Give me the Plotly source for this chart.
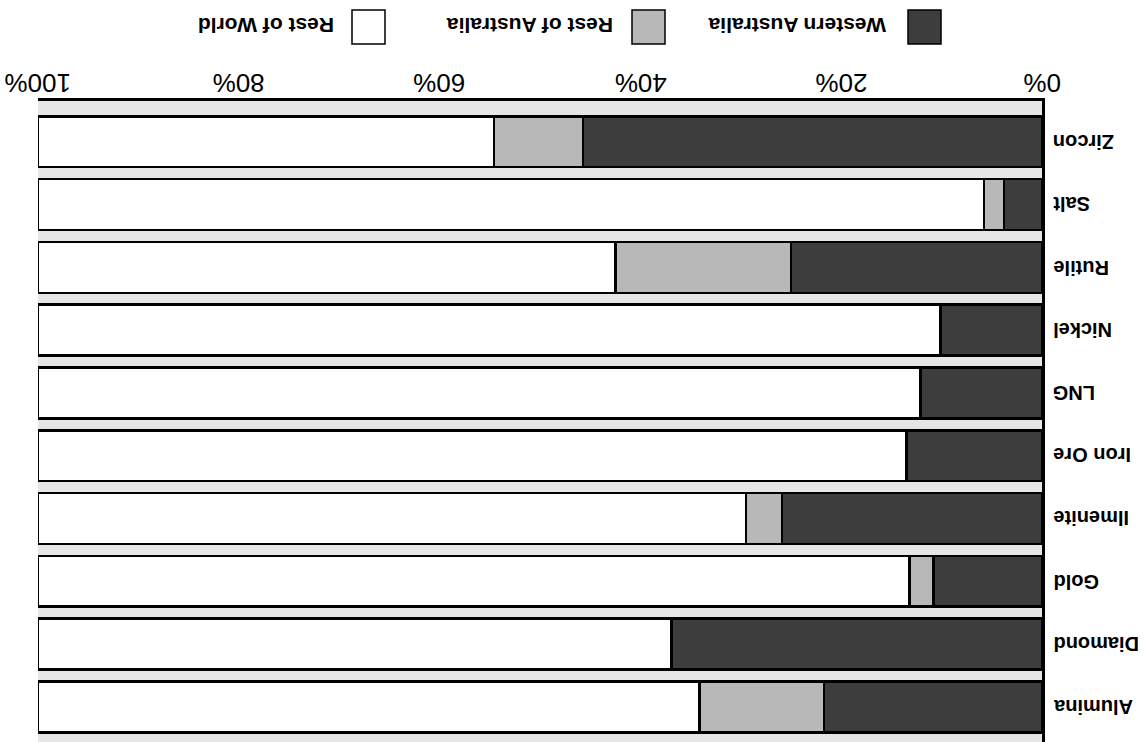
import plotly.graph_objects as go

categories = ["Alumina", "Diamond", "Gold", "Ilmenite", "Iron Ore", "LNG", "Nickel", "Rutile", "Salt", "Zircon"]
western_australia = [21.7, 36.9, 10.8, 25.9, 13.5, 12.1, 10.1, 25.0, 3.8, 45.7]
rest_of_australia = [12.4, 0.0, 2.4, 3.6, 0.0, 0.0, 0.0, 17.5, 2.0, 8.9]
rest_of_world = [round(100 - w - r, 1) for w, r in zip(western_australia, rest_of_australia)]
tick_values = [0, 20, 40, 60, 80, 100]
tick_labels = ["0%", "20%", "40%", "60%", "80%", "100%"]
series_names = ["Western Australia", "Rest of Australia", "Rest of World"]
series_colors = ["#3d3d3d", "#b8b8b8", "#ffffff"]

FONT = "Liberation Sans, Arial, Helvetica, sans-serif"
W_PX, H_PX = 1148, 742
L, R, T, B = 38, 106, 101, 0
PW, PH = W_PX - L - R, H_PX - T - B


def px_x(px):
    return (px - L) / PW


def px_y(py):
    return (H_PX - B - py) / PH


fig = go.Figure()
for name, vals, col in zip(series_names, [western_australia, rest_of_australia, rest_of_world], series_colors):
    fig.add_trace(go.Bar(
        y=categories, x=vals, name=name, orientation="h",
        marker=dict(color=col, line=dict(color="black", width=2.5)),
        showlegend=False,
    ))

fig.update_layout(
    width=W_PX, height=H_PX,
    margin=dict(l=L, r=R, t=T, b=B, autoexpand=False),
    barmode="stack", bargap=0.19,
    paper_bgcolor="white", plot_bgcolor="#e6e6e6",
    font=dict(family=FONT, color="black"),
)
fig.update_xaxes(
    range=[100, 0], side="top", tickvals=tick_values, showticklabels=False,
    showgrid=False, zeroline=False,
    showline=True, linecolor="black", linewidth=3, ticks="", automargin=False,
)
fig.update_yaxes(
    side="right", categoryorder="array", categoryarray=categories,
    range=[-0.56, 9.65], showticklabels=False, automargin=False,
    showgrid=False, zeroline=False, showline=True, linecolor="black", linewidth=3, ticks="",
)

# x tick labels, upside down, centred on their tick values above the axis
for tv, tl in zip(tick_values, tick_labels):
    fig.add_annotation(text=tl, xref="x", yref="paper", x=tv, y=px_y(83),
                       xanchor="center", yanchor="middle",
                       textangle=180, showarrow=False,
                       font=dict(size=26, family=FONT))

# category labels, upside down, just right of the axis
for cat in categories:
    fig.add_annotation(text=cat, xref="paper", yref="y", x=1, y=cat,
                       xanchor="left", yanchor="middle", xshift=9,
                       textangle=180, showarrow=False,
                       font=dict(size=20, family=FONT, weight="bold"))

# legend drawn as rotated annotations with swatches (pixel positions converted to paper)
legend_items = [
    ("Western Australia", series_colors[0], 908, 797),
    ("Rest of Australia", series_colors[1], 632, 530),
    ("Rest of World", series_colors[2], 352, 266),
]
for label, col, sx, tx in legend_items:
    fig.add_shape(type="rect", xref="paper", yref="paper",
                  x0=px_x(sx), x1=px_x(sx + 33), y0=px_y(44), y1=px_y(10),
                  fillcolor=col, line=dict(color="black", width=1.5))
    fig.add_annotation(text=label, xref="paper", yref="paper",
                       x=px_x(tx), y=px_y(25), xanchor="center", yanchor="middle",
                       textangle=180, showarrow=False,
                       font=dict(size=21, family=FONT, weight="bold"))

fig.write_html("out.html", config={"displayModeBar": False},
               post_script="document.body.style.margin='0';")
